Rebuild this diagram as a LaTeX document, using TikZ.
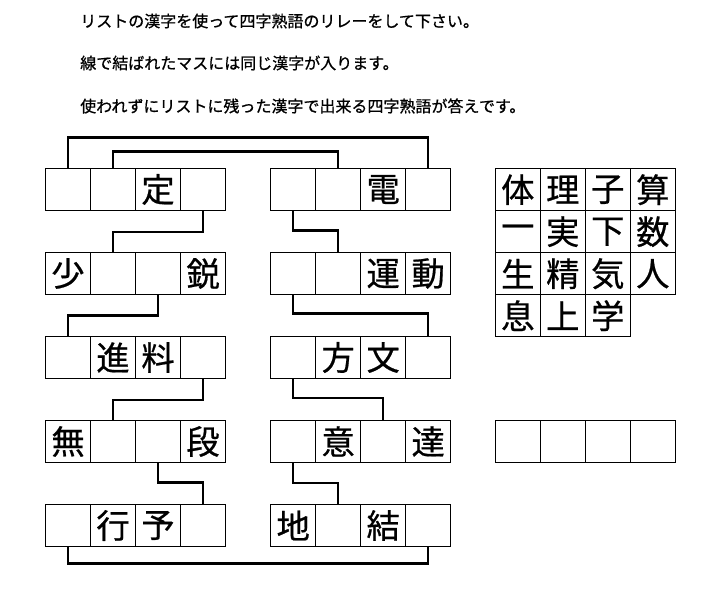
\documentclass[tikz,border=0pt]{standalone}
\usepackage{fontspec}
\usepackage{tikz}
\usetikzlibrary{positioning}
\newfontfamily\jpfont[FakeBold=0.6]{Noto Sans CJK JP}
\newfontfamily\jptext[FakeBold=0.8]{Noto Sans CJK JP}

\begin{document}
\begin{tikzpicture}[
        x=0.75pt, y=-0.75pt,
        cell/.style = {
            draw,
            rectangle,
            line width = 0.8pt,
            minimum width = 33.75pt,
            minimum height = 31.5pt,
            inner sep = 0pt,
            outer sep = 0pt,
            font = \jpfont\fontsize{25}{25}\selectfont
        },
        link/.style = {
            line width = 1.6pt
        },
        note/.style = {
            anchor = west,
            inner sep = 0pt,
            font = \jptext\fontsize{12}{12}\selectfont
        }
        ]
        \useasboundingbox (0,0) rectangle (721,589);
%
        \node[note] (t1) at (80,21) {リストの漢字を使って四字熟語のリレーをして下さい。};
        \node[note] (t2) at (80,63) {線で結ばれたマスには同じ漢字が入ります。};
        \node[note] (t3) at (80,106) {使われずにリストに残った漢字で出来る四字熟語が答えです。};
%
% left column
        \node[cell] (l11) at (68,189.5) {};
        \node[cell, right=0pt of l11] (l12) {};
        \node[cell, right=0pt of l12] (l13) {定};
        \node[cell, right=0pt of l13] (l14) {};
%
        \node[cell] (l21) at (68,273.5) {少};
        \node[cell, right=0pt of l21] (l22) {};
        \node[cell, right=0pt of l22] (l23) {};
        \node[cell, right=0pt of l23] (l24) {鋭};
%
        \node[cell] (l31) at (68,357.5) {};
        \node[cell, right=0pt of l31] (l32) {進};
        \node[cell, right=0pt of l32] (l33) {料};
        \node[cell, right=0pt of l33] (l34) {};
%
        \node[cell] (l41) at (68,441.5) {無};
        \node[cell, right=0pt of l41] (l42) {};
        \node[cell, right=0pt of l42] (l43) {};
        \node[cell, right=0pt of l43] (l44) {段};
%
        \node[cell] (l51) at (68,525.5) {};
        \node[cell, right=0pt of l51] (l52) {行};
        \node[cell, right=0pt of l52] (l53) {予};
        \node[cell, right=0pt of l53] (l54) {};
%
% right column
        \node[cell] (r11) at (293.2,189.5) {};
        \node[cell, right=0pt of r11] (r12) {};
        \node[cell, right=0pt of r12] (r13) {電};
        \node[cell, right=0pt of r13] (r14) {};
%
        \node[cell] (r21) at (293.2,273.5) {};
        \node[cell, right=0pt of r21] (r22) {};
        \node[cell, right=0pt of r22] (r23) {運};
        \node[cell, right=0pt of r23] (r24) {動};
%
        \node[cell] (r31) at (293.2,357.5) {};
        \node[cell, right=0pt of r31] (r32) {方};
        \node[cell, right=0pt of r32] (r33) {文};
        \node[cell, right=0pt of r33] (r34) {};
%
        \node[cell] (r41) at (293.2,441.5) {};
        \node[cell, right=0pt of r41] (r42) {意};
        \node[cell, right=0pt of r42] (r43) {};
        \node[cell, right=0pt of r43] (r44) {達};
%
        \node[cell] (r51) at (293.2,525.5) {地};
        \node[cell, right=0pt of r51] (r52) {};
        \node[cell, right=0pt of r52] (r53) {結};
        \node[cell, right=0pt of r53] (r54) {};
%
% list of kanji
        \node[cell] (g11) at (517.8,189.7) {体};
        \node[cell, right=0pt of g11] (g12) {理};
        \node[cell, right=0pt of g12] (g13) {子};
        \node[cell, right=0pt of g13] (g14) {算};
        \node[cell, below=0pt of g11] (g21) {一};
        \node[cell, right=0pt of g21] (g22) {実};
        \node[cell, right=0pt of g22] (g23) {下};
        \node[cell, right=0pt of g23] (g24) {数};
        \node[cell, below=0pt of g21] (g31) {生};
        \node[cell, right=0pt of g31] (g32) {精};
        \node[cell, right=0pt of g32] (g33) {気};
        \node[cell, right=0pt of g33] (g34) {人};
        \node[cell, below=0pt of g31] (g41) {息};
        \node[cell, right=0pt of g41] (g42) {上};
        \node[cell, right=0pt of g42] (g43) {学};
%
% answer
        \node[cell] (ans1) at (517.8,441.5) {};
        \node[cell, right=0pt of ans1] (ans2) {};
        \node[cell, right=0pt of ans2] (ans3) {};
        \node[cell, right=0pt of ans3] (ans4) {};
%
% relay lines
        \draw[link] (l11.north) -- ++(0,-31) -| (r14.north);
        \draw[link] (l12.north) -- ++(0,-17) -| (r12.north);
%
        \draw[link] (l14.south) -- ++(0,21.5) -| (l22.north);
        \draw[link] (r11.south) -- ++(0,20) -| (r22.north);
%
        \draw[link] (l23.south) -- ++(0,21) -| (l31.north);
        \draw[link] (r21.south) -- ++(0,19) -| (r34.north);
%
        \draw[link] (l34.south) -- ++(0,21.5) -| (l42.north);
        \draw[link] (r31.south) -- ++(0,19.5) -| (r43.north);
%
        \draw[link] (l43.south) -- ++(0,20) -| (l54.north);
        \draw[link] (r41.south) -- ++(0,20.5) -| (r52.north);
%
        \draw[link] (l51.south) -- ++(0,17) -| (r54.south);
%
    \end{tikzpicture}
\end{document}
